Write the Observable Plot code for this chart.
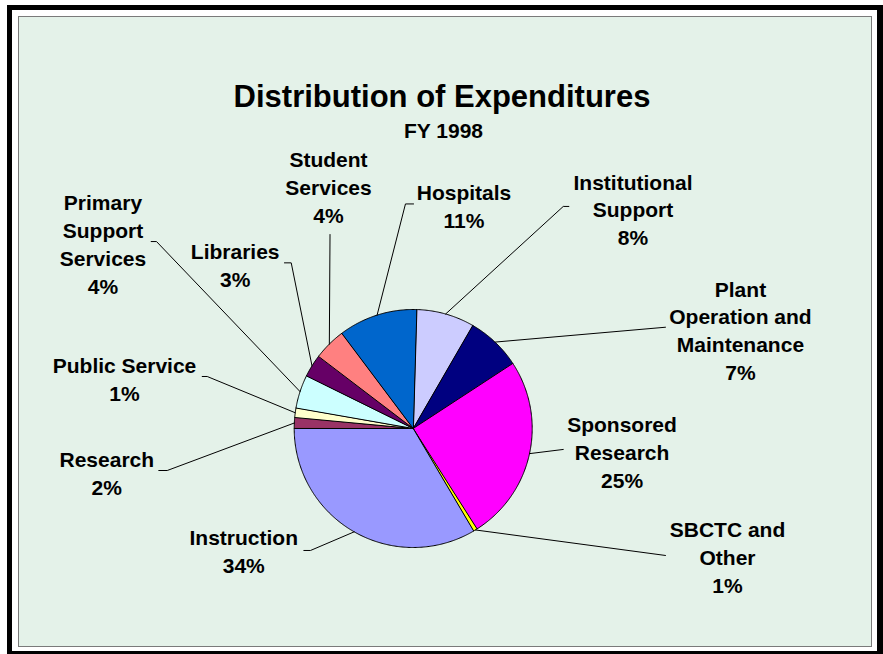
<!DOCTYPE html>
<html><head><meta charset="utf-8">
<script src="https://cdn.jsdelivr.net/npm/d3@7"></script>
<script src="https://cdn.jsdelivr.net/npm/@observablehq/plot@0.6"></script>
<style>
body{margin:0;background:#fff;}
#wrap{position:relative;width:883px;height:654px;overflow:hidden;}
#outer{position:absolute;left:7px;top:5px;width:876px;height:649px;box-sizing:border-box;border-style:solid;border-color:#000;border-width:5px 6px 3px 5px;background:#fff;}
#inner{position:absolute;left:18px;top:16px;width:854px;height:631px;box-sizing:border-box;border:1px solid #7a7a7a;background:#e4f2e9;}
#chart{position:absolute;left:0;top:0;}
</style></head><body>
<div id="wrap"><div id="outer"></div><div id="inner"></div><div id="chart"></div></div>
<script>
// ---- data ----
const categories = ["Institutional Support","Plant Operation and Maintenance","Sponsored Research","SBCTC and Other","Instruction","Research","Public Service","Primary Support Services","Libraries","Student Services","Hospitals"];
const shares = [7.9, 7.45, 25.2, 0.53, 33.5, 1.47, 1.28, 4.53, 3.08, 4.39, 10.7];
const percentLabels = ["8%","7%","25%","1%","34%","2%","1%","4%","3%","4%","11%"];
const labelLines = [["Institutional","Support"],["Plant","Operation and","Maintenance"],["Sponsored","Research"],["SBCTC and","Other"],["Instruction"],["Research"],["Public Service"],["Primary","Support","Services"],["Libraries"],["Student","Services"],["Hospitals"]];
const sliceColors = ["#ccccff","#000080","#ff00ff","#ffff00","#9999ff","#993366","#ffffcc","#ccffff","#660066","#ff8080","#0066cc"];
const titleText = "Distribution of Expenditures";
const subtitleText = "FY 1998";

// ---- label layout (pie-radius units from centre; y downwards) ----
const labelPos = [[1.847,-2.006],[2.750,-1.109],[1.755,0.031],[2.641,0.913],[-1.424,0.983],[-2.575,0.325],[-2.426,-0.468],[-2.607,-1.832],[-1.496,-1.426],[-0.712,-2.196],[0.427,-1.916]];
const leaderEnd = [[1.308,-1.866],[2.120,-0.851],[1.261,0.176],[2.120,1.067],[-0.919,1.025],[-2.138,0.353],[-1.773,-0.437],[-2.202,-1.571],[-1.082,-1.392],[-0.699,-1.630],[0.003,-1.887]];
const leaderElbow = [[1.261,-1.866],null,null,null,[-0.863,1.025],[-2.067,0.353],[-1.731,-0.437],[-2.157,-1.571],[-1.025,-1.392],null,[-0.065,-1.887]];

// ---- build ----
const font = "'Liberation Sans', Arial, sans-serif";
const startAngle = 1.6 * Math.PI / 180;
const arcs = d3.pie().sort(null).startAngle(startAngle).endAngle(startAngle + 2*Math.PI)(shares);
const slicePts = [];
arcs.forEach((a, i) => {
  slicePts.push({k: i, x: 0, y: 0});
  const n = Math.max(2, Math.ceil((a.endAngle - a.startAngle) / 0.01));
  for (let j = 0; j <= n; j++) {
    const t = a.startAngle + (a.endAngle - a.startAngle) * j / n;
    slicePts.push({k: i, x: Math.sin(t), y: -Math.cos(t)});
  }
});
const leaderPts = [];
arcs.forEach((a, i) => {
  const m = (a.startAngle + a.endAngle) / 2;
  leaderPts.push({k: i, x: Math.sin(m), y: -Math.cos(m)});
  if (leaderElbow[i]) leaderPts.push({k: i, x: leaderElbow[i][0], y: leaderElbow[i][1]});
  leaderPts.push({k: i, x: leaderEnd[i][0], y: leaderEnd[i][1]});
});
const labels = categories.map((c, i) => ({
  x: labelPos[i][0], y: labelPos[i][1],
  text: labelLines[i].concat([percentLabels[i]]).join("\n")
}));
const fs = 21, lh = 1.32;
const R = 119, cx = 412.7, cy = 428;

const chart = Plot.plot({
  width: 883, height: 654,
  margin: 0,
  x: {domain: [-1, 1], range: [cx - R, cx + R]},
  y: {domain: [-1, 1], range: [cy - R, cy + R]},
  color: {type: "identity"},
  axis: null,
  style: {background: "transparent", overflow: "visible", fontFamily: font},
  marks: [
    Plot.line(slicePts, {x: "x", y: "y", z: "k", fill: d => sliceColors[d.k], stroke: "#000", strokeWidth: 1, curve: "linear-closed"}),
    Plot.line(leaderPts, {x: "x", y: "y", z: "k", stroke: "#000", strokeWidth: 1}),
    Plot.text(labels, {x: "x", y: "y", text: "text", textAnchor: "middle", lineAnchor: "top", lineHeight: lh, dy: -0.71*lh*fs, fontSize: fs, fontWeight: "bold", fontFamily: font, fill: "#000"}),
    Plot.text([titleText], {text: d => d, frameAnchor: "top", lineAnchor: "top", dy: 106.7 - 0.71*31, fontSize: 31, fontWeight: "bold", fontFamily: font, fill: "#000"}),
    Plot.text([subtitleText], {text: d => d, frameAnchor: "top", lineAnchor: "top", dx: 1.5, dy: 137.3 - 0.71*21, fontSize: 21, fontWeight: "bold", fontFamily: font, fill: "#000"})
  ]
});
document.getElementById("chart").appendChild(chart);
</script>
</body></html>
